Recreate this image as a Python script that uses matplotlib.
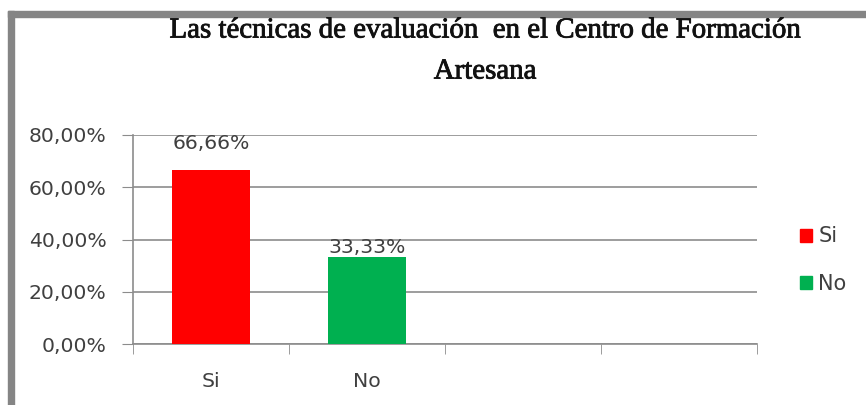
import matplotlib.pyplot as plt
import matplotlib.patheffects as pe
from matplotlib.patches import Rectangle, Patch

# data
categories = ["Si", "No", "", ""]
values = [66.66, 33.33]
bar_labels = ["66,66%", "33,33%"]
bar_colors = ["#FF0000", "#00B050"]
y_ticks = [0, 20, 40, 60, 80]
y_tick_labels = ["0,00%", "20,00%", "40,00%", "60,00%", "80,00%"]
title = "Las técnicas de evaluación  en el Centro de Formación\nArtesana"

fig = plt.figure(figsize=(8.66, 4.05), dpi=100)
fig.patch.set_facecolor("white")

# grey frame on the top and left edge (picture is cropped on the other sides)
fig.patches.append(Rectangle((8 / 866, 0), 6 / 866, 1 - 11 / 405,
                             transform=fig.transFigure, color="#858585", zorder=0))
fig.patches.append(Rectangle((8 / 866, 1 - 17 / 405), 1, 6 / 405,
                             transform=fig.transFigure, color="#858585", zorder=0))

ax = fig.add_axes([133 / 866, 1 - 344 / 405, (757 - 133) / 866, (344 - 135) / 405])

x = range(len(values))
bars = ax.bar(x, values, width=0.5, color=bar_colors, zorder=3)

# label offsets above the bar tops (in points), as the original placed them
offsets = [12, 0]
for rect, lab, off in zip(bars, bar_labels, offsets):
    ax.annotate(lab, (rect.get_x() + rect.get_width() / 2, rect.get_height()),
                xytext=(0, off), textcoords="offset points",
                ha="center", va="bottom", fontsize=14.7, color="#404040", zorder=4)

ax.set_xlim(-0.5, len(categories) - 0.5)
ax.set_ylim(0, 80)
ax.set_yticks(y_ticks)
ax.set_yticklabels(y_tick_labels, fontsize=14.7, color="#404040")
ax.set_xticks(range(len(categories)))
ax.set_xticklabels(categories, fontsize=14.7, color="#404040")
ax.tick_params(axis="x", which="major", length=0, pad=20)
ax.set_xticks([i - 0.5 for i in range(len(categories) + 1)], minor=True)
ax.tick_params(axis="x", which="minor", length=7, color="#8c8c8c", direction="out")
ax.tick_params(axis="y", length=8, color="#8c8c8c", pad=11)

ax.grid(axis="y", color="#8c8c8c", linewidth=1.2, zorder=0)
for side in ["top", "right"]:
    ax.spines[side].set_visible(False)
for side in ["left", "bottom"]:
    ax.spines[side].set_color("#8c8c8c")
    ax.spines[side].set_linewidth(1.2)

fig.text(0.56, 1 - 51 / 405, title, ha="center", va="center", fontsize=20.8,
         family="Liberation Serif", color="#111111", linespacing=1.75,
         path_effects=[pe.withStroke(linewidth=0.6, foreground="#111111")])

handles = [Patch(color=c) for c in bar_colors]
fig.legend(handles, categories[:2], loc="center left", bbox_to_anchor=(781 / 866, 1 - 260 / 405),
           frameon=False, fontsize=15, handlelength=0.6, handleheight=0.6,
           handletextpad=0.3, labelspacing=1.3, labelcolor="#404040")

fig.savefig("out.png", dpi=100)
